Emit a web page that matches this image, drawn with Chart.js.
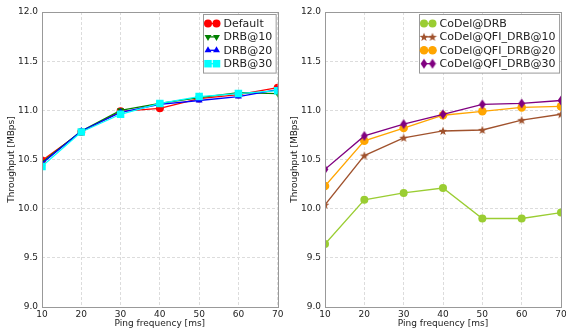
<!DOCTYPE html>
<html>
<head>
<meta charset="utf-8">
<script src="https://cdn.jsdelivr.net/npm/chart.js@4.4.0/dist/chart.umd.min.js"></script>
<style>
  html, body { margin: 0; padding: 0; background: #fff; }
  #wrap { position: relative; width: 566px; height: 331px; }
  canvas { position: absolute; top: 0; }
  #left-chart { left: 0; }
  #right-chart { left: 283px; }
</style>
</head>
<body>
<div id="wrap">
  <canvas id="left-chart" width="283" height="331"></canvas>
  <canvas id="right-chart" width="283" height="331"></canvas>
</div>
<script>
const pingFreq = [10, 20, 30, 40, 50, 60, 70];

// left panel
const defaultTput = [10.49, 10.78, 10.99, 11.02, 11.12, 11.16, 11.23];
const drb10Tput = [10.47, 10.79, 11.00, 11.07, 11.13, 11.18, 11.17];
const drb20Tput = [10.46, 10.79, 10.98, 11.06, 11.10, 11.14, 11.21];
const drb30Tput = [10.43, 10.78, 10.96, 11.07, 11.14, 11.17, 11.20];

// right panel
const codelDrbTput = [9.64, 10.09, 10.16, 10.21, 9.90, 9.90, 9.96];
const codelQfi10Tput = [10.04, 10.54, 10.72, 10.79, 10.80, 10.90, 10.96];
const codelQfi20Tput = [10.23, 10.69, 10.82, 10.95, 10.99, 11.03, 11.04];
const codelQfi30Tput = [10.40, 10.74, 10.86, 10.96, 11.06, 11.07, 11.10];

const FONT = '"DejaVu Sans", sans-serif';

// small canvases for the marker shapes chart.js does not have
function starMarker(color) {
  const c = document.createElement('canvas');
  c.width = 10; c.height = 10;
  const g = c.getContext('2d');
  g.beginPath();
  for (let i = 0; i < 10; i++) {
    const r = i % 2 === 0 ? 4.6 : 1.9;
    const a = -Math.PI / 2 + i * Math.PI / 5;
    const px = 5 + r * Math.cos(a);
    const py = 5.4 + r * Math.sin(a);
    i === 0 ? g.moveTo(px, py) : g.lineTo(px, py);
  }
  g.closePath();
  g.fillStyle = color;
  g.fill();
  return c;
}

function thinDiamondMarker(color) {
  const c = document.createElement('canvas');
  c.width = 8; c.height = 11;
  const g = c.getContext('2d');
  g.beginPath();
  g.moveTo(4, 0.5);
  g.lineTo(7.4, 5.5);
  g.lineTo(4, 10.5);
  g.lineTo(0.6, 5.5);
  g.closePath();
  g.fillStyle = color;
  g.fill();
  return c;
}

function series(label, data, color, pointStyle, radius, rotation) {
  return {
    label,
    data: pingFreq.map((x, i) => ({ x, y: data[i] })),
    borderColor: color,
    backgroundColor: color,
    borderWidth: 1.3,
    pointStyle,
    pointRadius: radius,
    pointRotation: rotation || 0,
    pointBorderWidth: 0,
    pointBorderColor: color,
    pointBackgroundColor: color,
    tension: 0,
  };
}

const frameAndLegend = {
  id: 'frameAndLegend',
  afterDraw(chart) {
    const ctx = chart.ctx;
    const area = chart.chartArea;
    ctx.save();
    // axes frame on all four sides
    ctx.strokeStyle = '#999';
    ctx.lineWidth = 1;
    ctx.strokeRect(Math.round(area.left) + 0.5, Math.round(area.top) + 0.5,
      Math.round(area.right - area.left), Math.round(area.bottom - area.top));

    // legend box, two markers per entry like the original
    const sets = chart.data.datasets;
    ctx.font = '11px ' + FONT;
    let textW = 0;
    sets.forEach((d) => { textW = Math.max(textW, ctx.measureText(d.label).width); });
    const rowH = 13.4;
    const boxW = textW + 24;
    const boxH = sets.length * rowH + 5;
    const x0 = Math.round(area.right - 2 - boxW) + 0.5;
    const y0 = Math.round(area.top + 2) + 0.5;
    ctx.fillStyle = '#fff';
    ctx.fillRect(x0, y0, boxW, boxH);
    ctx.strokeStyle = '#999';
    ctx.strokeRect(x0, y0, boxW, boxH);

    sets.forEach((d, i) => {
      const cy = y0 + 9 + i * rowH;
      const m1 = x0 + 4.5;
      const m2 = x0 + 13;
      ctx.strokeStyle = d.borderColor;
      ctx.fillStyle = d.backgroundColor;
      ctx.lineWidth = 1.3;
      ctx.beginPath();
      ctx.moveTo(m1, cy);
      ctx.lineTo(m2, cy);
      ctx.stroke();
      [m1, m2].forEach((mx) => {
        Chart.helpers.drawPoint(ctx, {
          pointStyle: d.pointStyle,
          radius: d.pointRadius,
          rotation: d.pointRotation,
          borderWidth: 0,
        }, mx, cy);
      });
      ctx.fillStyle = '#222';
      ctx.textAlign = 'left';
      ctx.textBaseline = 'middle';
      ctx.fillText(d.label, x0 + 20, cy + 0.5);
    });
    ctx.restore();
  },
};

function makeChart(id, datasets) {
  datasets.forEach((d, i) => { d.order = datasets.length - i; });
  return new Chart(document.getElementById(id), {
    type: 'line',
    data: { datasets },
    options: {
      responsive: false,
      animation: false,
      layout: { padding: { top: 12, right: 4, left: 0, bottom: 0 } },
      plugins: { legend: { display: false }, tooltip: { enabled: false } },
      scales: {
        x: {
          type: 'linear',
          min: 10,
          max: 70,
          ticks: { stepSize: 10, color: '#222', font: { family: FONT, size: 9 }, padding: 2, maxRotation: 0 },
          grid: { color: '#dcdcdc', drawTicks: false },
          border: { display: false, dash: [3, 2] },
          title: { display: true, text: 'Ping frequency [ms]', color: '#222', font: { family: FONT, size: 9 }, padding: { top: 0, bottom: 2 } },
          afterFit: (scale) => {
            scale.height = 24;
            scale.paddingLeft = 0;
            scale.paddingRight = 0;
          },
        },
        y: {
          min: 9,
          max: 12,
          ticks: {
            stepSize: 0.5,
            color: '#222',
            font: { family: FONT, size: 9 },
            padding: 4,
            callback: (v) => v.toFixed(1),
          },
          grid: { color: '#dcdcdc', drawTicks: false },
          border: { display: false, dash: [3, 2] },
          title: { display: true, text: 'Throughput [MBps]', color: '#222', font: { family: FONT, size: 9 }, padding: { top: 6, bottom: 0 } },
          afterFit: (scale) => {
            scale.width = 42;
            scale.paddingTop = 0;
            scale.paddingBottom = 0;
          },
        },
      },
    },
    plugins: [frameAndLegend],
  });
}

makeChart('left-chart', [
  series('Default', defaultTput, '#ff0000', 'circle', 4),
  series('DRB@10', drb10Tput, '#008000', 'triangle', 4, 180),
  series('DRB@20', drb20Tput, '#0000ff', 'triangle', 4),
  series('DRB@30', drb30Tput, '#00ffff', 'rect', 5.3),
]);

makeChart('right-chart', [
  series('CoDel@DRB', codelDrbTput, '#9acd32', 'circle', 4),
  series('CoDel@QFI_DRB@10', codelQfi10Tput, '#a0522d', starMarker('#a0522d'), 4),
  series('CoDel@QFI_DRB@20', codelQfi20Tput, '#ffa500', 'circle', 4.3),
  series('CoDel@QFI_DRB@30', codelQfi30Tput, '#800080', thinDiamondMarker('#800080'), 5),
]);
</script>
</body>
</html>
